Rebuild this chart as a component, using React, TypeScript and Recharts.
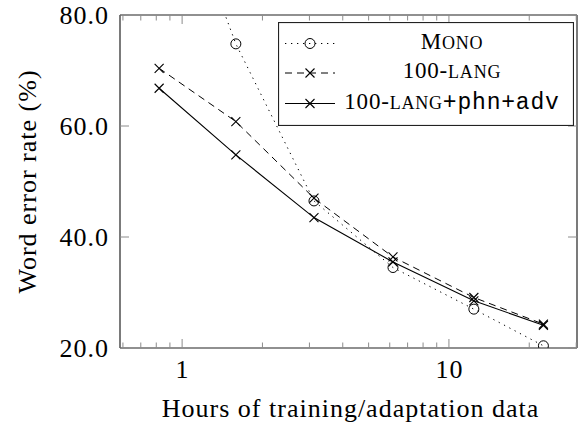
import { Label, Legend, Line, LineChart, XAxis, YAxis } from "recharts";

// hours of training / adaptation data (log axis)
const hours = [0.82, 1.59, 3.12, 6.17, 12.4, 22.6];
// word error rate (%) per system
const monoWer = [112, 74.8, 46.5, 34.5, 27.0, 20.4];
const langWer = [70.4, 60.8, 47.0, 36.4, 29.1, 24.3];
const langPhnAdvWer = [66.8, 54.8, 43.5, 35.5, 28.5, 24.1];

const xMajorTicks = [1, 10];
const xMinorTicks = [0.6, 0.7, 0.8, 0.9, 2, 3, 4, 5, 6, 7, 8, 9, 20, 30];
const xAllTicks = [...xMinorTicks, ...xMajorTicks].sort((a, b) => a - b);
const xDomain = [0.585, 30.2];
const yTicks = [20, 40, 60, 80];
const yDomain = [20, 80];

const data = hours.map((h, i) => ({
  hours: h,
  mono: monoWer[i],
  lang: langWer[i],
  langPhnAdv: langPhnAdvWer[i],
}));

const TICK = "#8c8c8c";
const FRAME = "#222";
const MAJOR = 9;
const MINOR = 5.5;

const axisFont = {
  fontFamily: "'Liberation Serif', 'Times New Roman', serif",
  fontSize: 26,
  letterSpacing: 1,
  fill: "#000",
};
const legendFont = {
  fontFamily: "'Liberation Serif', 'Times New Roman', serif",
  fontSize: 23,
  letterSpacing: 0.8,
};

const xTick = (dir: 1 | -1, withLabel: boolean) => (props: any) => {
  const { x, y, payload } = props;
  const v = payload.value;
  const major = xMajorTicks.includes(v);
  const len = major ? MAJOR : MINOR;
  return (
    <g>
      <line x1={x} y1={y} x2={x} y2={y - dir * len} stroke={TICK} strokeWidth={1} />
      {withLabel && major && (
        <text x={x + 0.5} y={y + 30} textAnchor="middle" style={axisFont}>
          {String(v)}
        </text>
      )}
    </g>
  );
};

const yTick = (dir: 1 | -1, withLabel: boolean) => (props: any) => {
  const { x, y, payload } = props;
  return (
    <g>
      <line x1={x} y1={y} x2={x + dir * MAJOR} y2={y} stroke={TICK} strokeWidth={1} />
      {withLabel && (
        <text x={x - 11} y={y + 9} textAnchor="end" style={axisFont}>
          {payload.value.toFixed(1)}
        </text>
      )}
    </g>
  );
};

const CircleDot = (props: any) => {
  const { cx, cy } = props;
  if (cx == null || cy == null) return <g />;
  return <circle cx={cx} cy={cy} r={5} fill="none" stroke="#000" strokeWidth={1} />;
};

const CrossDot = (props: any) => {
  const { cx, cy } = props;
  if (cx == null || cy == null) return <g />;
  const s = 4.5;
  return (
    <path
      d={`M${cx - s},${cy - s}L${cx + s},${cy + s}M${cx - s},${cy + s}L${cx + s},${cy - s}`}
      stroke="#000"
      strokeWidth={1.1}
      fill="none"
    />
  );
};

const LegendRow = ({ y, dash, marker, children }: any) => (
  <g>
    <line x1={7} x2={57} y1={y} y2={y} stroke="#000" strokeWidth={1} strokeDasharray={dash} />
    {marker === "circle" ? <CircleDot cx={32} cy={y} /> : <CrossDot cx={32} cy={y} />}
    <text x={174} y={y + 5} textAnchor="middle" style={legendFont}>
      {children}
    </text>
  </g>
);

const LegendBox = () => (
  <svg width={296} height={104} style={{ display: "block" }}>
    <rect x={0.5} y={0.5} width={295} height={103} fill="#fff" stroke={FRAME} strokeWidth={1.2} />
    <LegendRow y={21.5} dash="1.3 4.7" marker="circle">
      <tspan>M</tspan>
      <tspan fontSize={18}>ONO</tspan>
    </LegendRow>
    <LegendRow y={51} dash="7 5" marker="cross">
      <tspan>100-</tspan>
      <tspan fontSize={18}>LANG</tspan>
    </LegendRow>
    <LegendRow y={81.5} marker="cross">
      <tspan>100-</tspan>
      <tspan fontSize={18}>LANG</tspan>
      <tspan style={{ fontFamily: "'Liberation Mono', 'DejaVu Sans Mono', monospace" }}>+phn+adv</tspan>
    </LegendRow>
  </svg>
);

const frameLine = { stroke: FRAME, strokeWidth: 1.2 };

export default function App() {
  return (
    <div style={{ position: "absolute", left: 0, top: 0, width: 584, height: 428, background: "#fff" }}>
      <LineChart
        width={584}
        height={428}
        data={data}
        margin={{ top: 14, right: 6, bottom: 79, left: 119 }}
      >
        <XAxis
          xAxisId="x"
          dataKey="hours"
          type="number"
          scale="log"
          domain={xDomain}
          allowDataOverflow
          ticks={xAllTicks}
          interval={0}
          height={1}
          tickSize={0}
          tickMargin={0}
          axisLine={frameLine}
          tickLine={false}
          tickFormatter={() => ""}
          tick={xTick(1, true)}
        >
          <Label
            content={(p: any) => (
              <text
                x={p.viewBox.x + p.viewBox.width / 2 + 2}
                y={p.viewBox.y + 69}
                textAnchor="middle"
                style={axisFont}
              >
                Hours of training/adaptation data
              </text>
            )}
          />
        </XAxis>
        <XAxis
          xAxisId="xTop"
          orientation="top"
          dataKey="hours"
          type="number"
          scale="log"
          domain={xDomain}
          allowDataOverflow
          ticks={xAllTicks}
          interval={0}
          height={1}
          tickSize={0}
          tickMargin={0}
          axisLine={frameLine}
          tickLine={false}
          tickFormatter={() => ""}
          tick={xTick(-1, false)}
        />
        <YAxis
          yAxisId="y"
          type="number"
          domain={yDomain}
          allowDataOverflow
          ticks={yTicks}
          interval={0}
          width={1}
          tickSize={0}
          tickMargin={0}
          axisLine={frameLine}
          tickLine={false}
          tickFormatter={() => ""}
          tick={yTick(1, true)}
        >
          <Label
            content={(p: any) => {
              const cx = 36;
              const cy = p.viewBox.y + p.viewBox.height / 2;
              return (
                <text
                  x={cx}
                  y={cy}
                  transform={`rotate(-90 ${cx} ${cy})`}
                  textAnchor="middle"
                  style={axisFont}
                >
                  Word error rate (%)
                </text>
              );
            }}
          />
        </YAxis>
        <YAxis
          yAxisId="yRight"
          orientation="right"
          type="number"
          domain={yDomain}
          allowDataOverflow
          ticks={yTicks}
          interval={0}
          width={1}
          tickSize={0}
          tickMargin={0}
          axisLine={frameLine}
          tickLine={false}
          tickFormatter={() => ""}
          tick={yTick(-1, false)}
        />
        <Legend
          layout="vertical"
          align="center"
          verticalAlign="middle"
          wrapperStyle={{ left: 278, top: 22, width: 296, height: 104 }}
          content={() => <LegendBox />}
        />
        <Line
          xAxisId="x"
          yAxisId="y"
          dataKey="mono"
          type="linear"
          stroke="#000"
          strokeWidth={1}
          strokeDasharray="1.3 4.7"
          dot={<CircleDot />}
          activeDot={false}
          isAnimationActive={false}
        />
        <Line
          xAxisId="x"
          yAxisId="y"
          dataKey="lang"
          type="linear"
          stroke="#000"
          strokeWidth={1}
          strokeDasharray="7 5"
          dot={<CrossDot />}
          activeDot={false}
          isAnimationActive={false}
        />
        <Line
          xAxisId="x"
          yAxisId="y"
          dataKey="langPhnAdv"
          type="linear"
          stroke="#000"
          strokeWidth={1.1}
          dot={<CrossDot />}
          activeDot={false}
          isAnimationActive={false}
        />
      </LineChart>
    </div>
  );
}
